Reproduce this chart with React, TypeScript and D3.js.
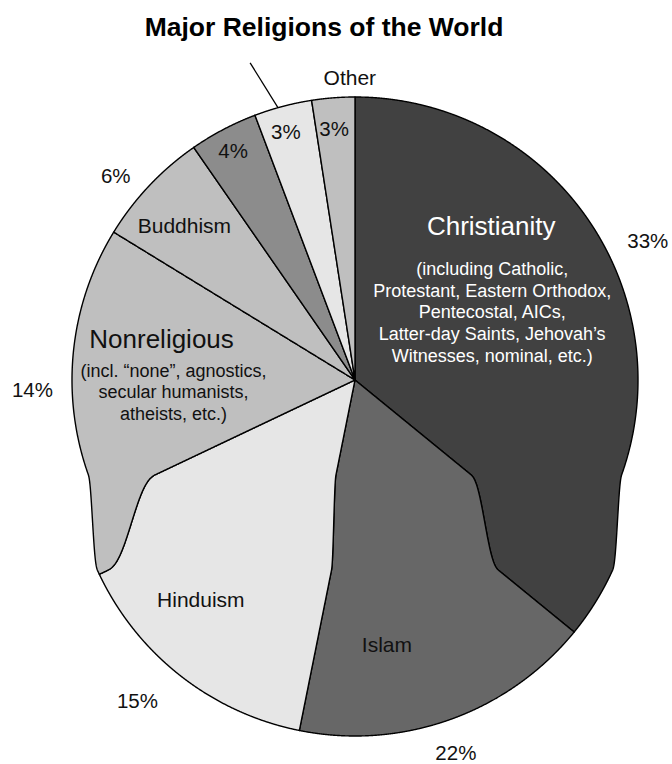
import React from 'react';
import * as d3 from 'd3';

// ---- data ----
const religions = ['Christianity', 'Islam', 'Hinduism', 'Nonreligious', 'Buddhism', '', '', 'Other'];
const shares = [35.9, 17.25, 14.8, 15.8, 6.6, 3.9, 3.3, 2.45]; // drawn share of the circle
const percentLabels = ['33%', '22%', '15%', '14%', '6%', '4%', '3%', '3%'];
const fills = ['#414141', '#676767', '#e6e6e6', '#bfbfbf', '#bfbfbf', '#8c8c8c', '#e6e6e6', '#bfbfbf'];
const nameColors = ['#ffffff', '#111111', '#111111', '#111111', '#111111', '#111111', '#111111', '#111111'];
const christianitySub = [
  '(including Catholic,',
  'Protestant, Eastern Orthodox,',
  'Pentecostal, AICs,',
  'Latter-day Saints, Jehovah\u2019s',
  'Witnesses, nominal, etc.)',
];
const nonreligiousSub = ['(incl. \u201cnone\u201d, agnostics,', 'secular humanists,', 'atheists, etc.)'];
const title = 'Major Religions of the World';

// ---- layout (polar anchors: [angle deg, radius]) ----
const pctPos: [number, number][] = [
  [65.8, 321], [161.8, 323], [220.5, 335], [267.0, 323], [309.5, 310], [331.2, 253], [344.0, 251], [355.1, 245],
];
const namePos: ([number, number] | null)[] = [
  [43.2, 199], [170.9, 202], [225, 218], [279.3, 196], [310.7, 225], null, null, [359.0, 295],
];
const nameSize = [26, 21, 21, 26, 21, 21, 21, 21];

const W = 672, H = 764;
const cx = 355, cy = 380, R = 283;
const D = 73, y0 = 474, y1 = 498;
const FONT = "'Liberation Sans', Arial, Helvetica, sans-serif";

function warp(x: number, y: number): [number, number] {
  let t = (y - y0) / (y1 - y0);
  t = Math.max(0, Math.min(1, t));
  const s = t * t * t * (t * (t * 6 - 15) + 10);
  return [x, y + D * s];
}
function polarRad(a: number, r: number): [number, number] {
  return [cx + r * Math.sin(a), cy - r * Math.cos(a)];
}
function polar(aDeg: number, r: number): [number, number] {
  return warp(...polarRad((aDeg * Math.PI) / 180, r));
}

function slicePath(a0: number, a1: number): string {
  const pts: [number, number][] = [];
  const rs = d3.range(0, R + 0.001, 0.5);
  rs.forEach((r) => pts.push(polarRad(a0, r)));
  const n = Math.max(2, Math.ceil(((a1 - a0) * R) / 0.5));
  const as = d3.range(n + 1).map((i) => a0 + ((a1 - a0) * i) / n);
  as.forEach((a) => pts.push(polarRad(a, R)));
  rs.slice().reverse().forEach((r) => pts.push(polarRad(a1, r)));
  const line = d3.line<[number, number]>().x((p) => p[0]).y((p) => p[1]);
  return (line(pts.map((p) => warp(p[0], p[1]))) || '') + 'Z';
}

export default function App() {
  const arcs = d3.pie<number>().sort(null).value((d) => d)(shares);
  const leadA = polar(344.2, R);
  const leadB = polar(341.7, 334);
  return (
    <svg width={W} height={H} style={{ position: 'absolute', left: 0, top: 0, background: '#fff' }}>
      <text x={324} y={36} textAnchor="middle" fontFamily={FONT} fontWeight="bold" fontSize={26.5} fill="#000">
        {title}
      </text>
      {arcs.map((a, i) => (
        <path key={i} d={slicePath(a.startAngle, a.endAngle)} fill={fills[i]} stroke="#000" strokeWidth={1.4} strokeLinejoin="round" />
      ))}
      <line x1={leadA[0]} y1={leadA[1]} x2={leadB[0]} y2={leadB[1]} stroke="#000" strokeWidth={1.3} />
      {percentLabels.map((p, i) => {
        const [x, y] = polar(pctPos[i][0], pctPos[i][1]);
        return (
          <text key={'p' + i} x={x} y={y} textAnchor="middle" fontFamily={FONT} fontSize={20.5} fill="#111">
            {p}
          </text>
        );
      })}
      {religions.map((nm, i) => {
        const pos = namePos[i];
        if (!pos || !nm) return null;
        const [x, y] = polar(pos[0], pos[1]);
        return (
          <text key={'n' + i} x={x} y={y} textAnchor="middle" fontFamily={FONT} fontSize={nameSize[i]} fill={nameColors[i]}>
            {nm}
          </text>
        );
      })}
      {(() => {
        const [x, y] = polar(namePos[0]![0], namePos[0]![1]);
        return christianitySub.map((s, k) => (
          <text key={'c' + k} x={x + 1} y={y + 40 + k * 21.7} textAnchor="middle" fontFamily={FONT} fontSize={18} fill="#fff">
            {s}
          </text>
        ));
      })()}
      {(() => {
        const [x, y] = polar(namePos[3]![0], namePos[3]![1]);
        return nonreligiousSub.map((s, k) => (
          <text key={'r' + k} x={x + 12} y={y + 28.4 + k * 21.4} textAnchor="middle" fontFamily={FONT} fontSize={18} fill="#111">
            {s}
          </text>
        ));
      })()}
    </svg>
  );
}
